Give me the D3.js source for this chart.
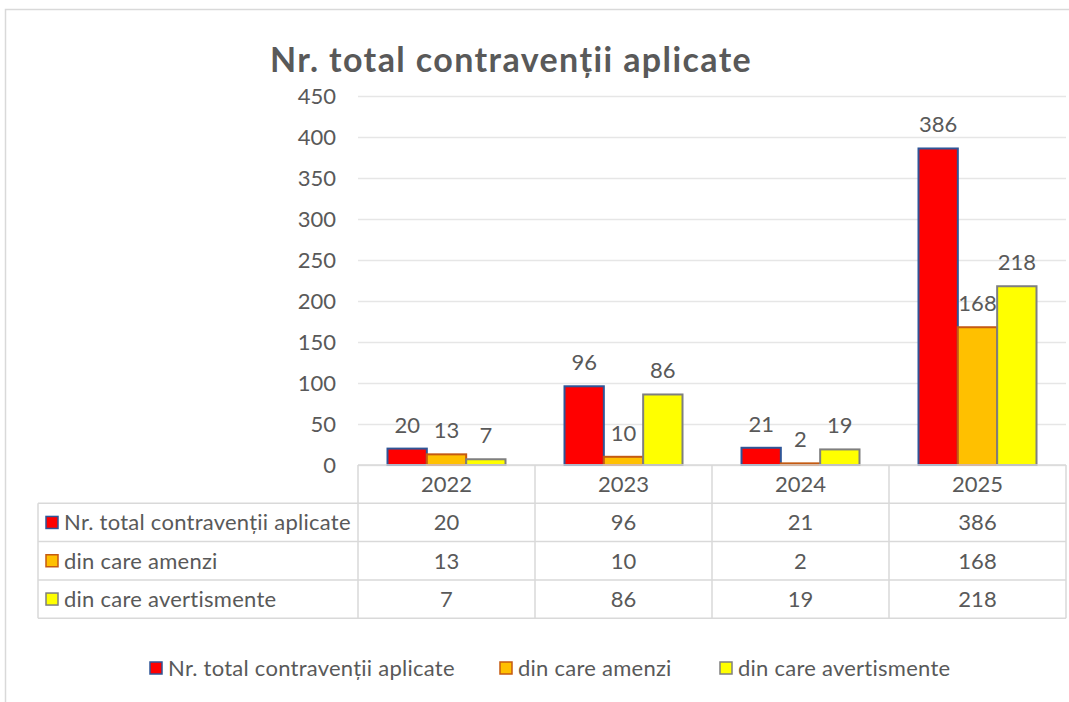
<!DOCTYPE html>
<html>
  <head>
    <meta charset="UTF-8" />
    <title>Nr. total contravenții aplicate</title>
    <style>
      body { margin: 0; background: #fff; }
      svg text { font-family: Lato, 'Open Sans', sans-serif; fill: #595959; }
    </style>
    <script src="https://d3js.org/d3.v7.min.js"></script>
  </head>
  <body>
    <div id="viz"></div>
    <script>
      // chart data
      const years = ['2022', '2023', '2024', '2025'];
      const seriesNames = [
        'Nr. total contravenții aplicate',
        'din care amenzi',
        'din care avertismente',
      ];
      const totalValues = [20, 96, 21, 386];
      const amenziValues = [13, 10, 2, 168];
      const avertismenteValues = [7, 86, 19, 218];
      const yTicks = [0, 50, 100, 150, 200, 250, 300, 350, 400, 450];

      const fills = ['#ff0000', '#ffc000', '#ffff00'];
      const strokes = ['#2f5597', '#c55a11', '#7f7f7f'];

      const series = seriesNames.map((name, i) => ({
        name: name,
        values: [totalValues, amenziValues, avertismenteValues][i],
        fill: fills[i],
        stroke: strokes[i],
      }));

      const width = 1069;
      const height = 702;
      const margin = { left: 358, right: 3, top: 96, bottom: 237 };
      const innerW = width - margin.left - margin.right;
      const innerH = height - margin.top - margin.bottom;
      const rowH = 38.3;
      const tableLeft = 38;
      const fs = '22px';
      const ls = '0.25px';

      const svg = d3
        .select('#viz')
        .append('svg')
        .attr('width', width)
        .attr('height', height);

      // outer chart frame
      svg
        .append('rect')
        .attr('x', 5.5)
        .attr('y', 9.5)
        .attr('width', 1100)
        .attr('height', 760)
        .attr('fill', 'none')
        .attr('stroke', '#d9d9d9')
        .attr('stroke-width', 1.5);

      svg
        .append('text')
        .attr('x', 511)
        .attr('y', 72)
        .attr('text-anchor', 'middle')
        .style('font-size', '34px')
        .style('font-weight', 'bold')
        .style('letter-spacing', '1.4px')
        .text('Nr. total contravenții aplicate');

      const chart = svg
        .append('g')
        .attr('transform', `translate(${margin.left},${margin.top})`);

      const x0 = d3.scaleBand().domain(years).range([0, innerW]).padding(0);
      const x1 = d3
        .scaleBand()
        .domain(seriesNames)
        .range([0, x0.bandwidth()])
        .paddingOuter(0.75)
        .paddingInner(0);
      const y = d3.scaleLinear().domain([0, 450]).range([innerH, 0]);

      // gridlines
      chart
        .append('g')
        .selectAll('line')
        .data(yTicks)
        .join('line')
        .attr('x1', 0)
        .attr('x2', innerW)
        .attr('y1', (d) => Math.round(y(d)) + 0.5)
        .attr('y2', (d) => Math.round(y(d)) + 0.5)
        .attr('stroke', '#e6e6e6')
        .attr('stroke-width', 1.3);

      // y axis
      const yAxis = chart
        .append('g')
        .attr('transform', 'translate(-22,0)')
        .call(d3.axisLeft(y).tickValues(yTicks).tickSize(0).tickPadding(0));
      yAxis.select('.domain').remove();
      yAxis
        .selectAll('text')
        .style('font-size', fs)
        .attr('fill', '#595959')
        .attr('font-family', null);

      // bars
      const groups = chart
        .selectAll('.year')
        .data(years)
        .join('g')
        .attr('class', 'year')
        .attr('transform', (d) => `translate(${x0(d)},0)`);

      groups
        .selectAll('rect')
        .data((yr, yi) => series.map((s) => ({ s: s, v: s.values[yi] })))
        .join('rect')
        .attr('x', (d) => x1(d.s.name))
        .attr('y', (d) => y(d.v))
        .attr('width', x1.bandwidth())
        .attr('height', (d) => innerH - y(d.v))
        .attr('fill', (d) => d.s.fill)
        .attr('stroke', (d) => d.s.stroke)
        .attr('stroke-width', 2);

      groups
        .selectAll('.lbl')
        .data((yr, yi) => series.map((s) => ({ s: s, v: s.values[yi] })))
        .join('text')
        .attr('class', 'lbl')
        .attr('x', (d) => x1(d.s.name) + x1.bandwidth() / 2)
        .attr('y', (d) => y(d.v) - 16)
        .attr('text-anchor', 'middle')
        .style('font-size', fs)
        .text((d) => d.v);

      // data table
      const table = svg.append('g');
      const tableTop = margin.top + innerH;
      const gridColor = '#d9d9d9';

      // horizontal lines
      const hLines = [0, 1, 2, 3, 4];
      table
        .selectAll('.hline')
        .data(hLines)
        .join('line')
        .attr('class', 'hline')
        .attr('x1', (d) => (d === 0 ? margin.left : tableLeft))
        .attr('x2', margin.left + innerW)
        .attr('y1', (d) => tableTop + d * rowH)
        .attr('y2', (d) => tableTop + d * rowH)
        .attr('stroke', gridColor)
        .attr('stroke-width', 1.5);

      // vertical lines
      const vCols = years.map((d) => margin.left + x0(d)).concat([margin.left + innerW]);
      table
        .selectAll('.vline')
        .data(vCols)
        .join('line')
        .attr('class', 'vline')
        .attr('x1', (d) => d)
        .attr('x2', (d) => d)
        .attr('y1', tableTop)
        .attr('y2', tableTop + 4 * rowH)
        .attr('stroke', gridColor)
        .attr('stroke-width', 1.5);
      table
        .append('line')
        .attr('x1', tableLeft)
        .attr('x2', tableLeft)
        .attr('y1', tableTop + rowH)
        .attr('y2', tableTop + 4 * rowH)
        .attr('stroke', gridColor)
        .attr('stroke-width', 1.5);

      // header years
      table
        .selectAll('.yr')
        .data(years)
        .join('text')
        .attr('class', 'yr')
        .attr('x', (d) => margin.left + x0(d) + x0.bandwidth() / 2)
        .attr('y', tableTop + rowH / 2 + 8)
        .attr('text-anchor', 'middle')
        .style('font-size', fs)
        .text((d) => d);

      // rows
      const rows = table
        .selectAll('.row')
        .data(series)
        .join('g')
        .attr('class', 'row')
        .attr('transform', (d, i) => `translate(0,${tableTop + (i + 1) * rowH})`);

      rows
        .append('rect')
        .attr('x', tableLeft + 8)
        .attr('y', rowH / 2 - 6)
        .attr('width', 12)
        .attr('height', 12)
        .attr('fill', (d) => d.fill)
        .attr('stroke', (d) => d.stroke)
        .attr('stroke-width', 1.5);
      rows
        .append('text')
        .attr('x', tableLeft + 26)
        .attr('y', rowH / 2 + 8)
        .style('font-size', fs)
        .style('letter-spacing', ls)
        .text((d) => d.name);
      rows
        .selectAll('.val')
        .data((d) => d.values)
        .join('text')
        .attr('class', 'val')
        .attr('x', (d, i) => margin.left + x0(years[i]) + x0.bandwidth() / 2)
        .attr('y', rowH / 2 + 8)
        .attr('text-anchor', 'middle')
        .style('font-size', fs)
        .text((d) => d);

      // legend
      const legendX = [150, 500, 720];
      const legend = svg
        .append('g')
        .selectAll('g')
        .data(series)
        .join('g')
        .attr('transform', (d, i) => `translate(${legendX[i]},669)`);
      legend
        .append('rect')
        .attr('x', 0)
        .attr('y', -7)
        .attr('width', 12)
        .attr('height', 12)
        .attr('fill', (d) => d.fill)
        .attr('stroke', (d) => d.stroke)
        .attr('stroke-width', 1.5);
      legend
        .append('text')
        .attr('x', 18)
        .attr('y', 7)
        .style('font-size', fs)
        .style('letter-spacing', ls)
        .text((d) => d.name);
    </script>
  </body>
</html>
